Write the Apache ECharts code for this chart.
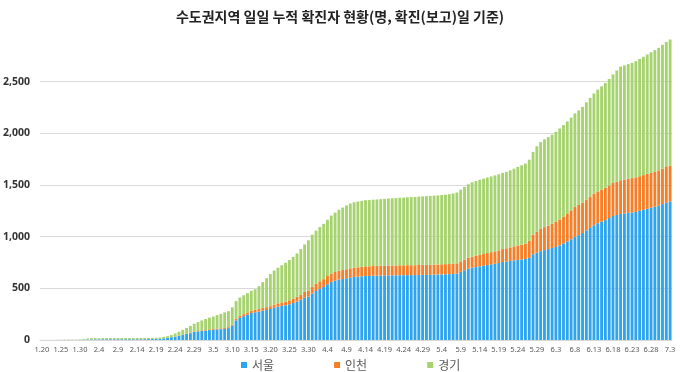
<!DOCTYPE html>
<html>
<head>
<meta charset="utf-8">
<script src="https://cdn.jsdelivr.net/npm/echarts@6/dist/echarts.min.js"></script>
<style>
html,body{margin:0;padding:0;background:#fff;}
#chart{width:680px;height:372px;}
</style>
</head>
<body>
<div id="chart"></div>
<script>
// Month spans used to build the daily category labels (1.20 ~ 7.3)
var monthSpans = [[1,20,31],[2,1,29],[3,1,31],[4,1,30],[5,1,31],[6,1,30],[7,1,3]];
var categories = [];
monthSpans.forEach(function(m){ for(var d=m[1]; d<=m[2]; d++){ categories.push(m[0]+'.'+d); } });

var seriesNames = ['서울','인천','경기'];

var seoul = [
  0,0,0,0,1,1,1,1,1,1,2,4,
  5,6,6,6,7,7,7,7,7,7,7,
  7,7,7,7,8,9,9,10,
  12,16,20,27,32,40,50,58,66,78,
  82,87,91,96,100,103,105,108,115,141,
  190,215,230,245,262,268,275,284,290,300,
  312,323,330,336,346,358,372,390,410,420,450,
  474,495,513,540,563,575,585,590,597,603,
  610,612,616,620,620,622,623,624,624,625,626,626,627,627,628,628,628,629,630,630,
  631,633,634,635,636,637,640,
  643,660,675,690,700,706,712,718,725,732,738,745,
  755,759,765,770,775,779,785,795,830,845,860,870,
  880,890,900,915,935,955,975,1000,1015,1035,1060,1085,1110,
  1130,1145,1160,1180,1200,1210,1220,1225,1230,1235,1240,1250,1260,1270,1280,1290,1300,
  1315,1328,1340
];

var incheon = [
  1,1,1,1,1,1,1,1,1,1,1,1,
  1,1,1,1,1,1,1,1,1,1,1,
  1,1,1,1,1,1,1,1,
  1,1,1,1,2,3,3,3,4,4,
  5,6,6,7,7,8,8,9,9,10,
  15,18,20,22,24,25,26,27,28,28,
  30,32,34,36,38,42,46,50,55,60,64,
  70,73,76,79,81,83,85,87,88,90,
  91,92,92,93,93,94,94,94,95,95,95,95,96,96,96,96,96,97,97,97,
  97,97,97,98,98,98,98,
  99,100,102,105,108,110,112,114,116,118,120,122,
  125,128,132,136,140,143,148,165,190,205,215,222,
  228,235,243,252,260,270,280,288,292,296,300,303,306,
  308,310,313,316,320,323,326,328,330,332,334,335,336,338,339,340,342,
  344,346,348
];

var gyeonggi = [
  0,0,0,0,0,0,1,2,2,2,3,5,
  8,10,11,11,11,11,11,11,11,11,11,
  11,11,11,11,11,11,11,11,
  12,13,16,20,30,37,45,55,66,76,
  86,96,106,114,120,130,140,150,155,165,
  172,178,183,186,190,198,220,250,280,310,
  330,345,360,375,390,405,420,440,460,485,505,
  515,525,535,545,560,575,590,605,618,628,
  632,636,638,640,641,642,643,645,647,649,651,652,654,655,657,659,660,662,663,665,
  666,667,668,670,672,676,680,
  685,695,705,712,718,722,727,729,731,733,735,736,
  737,740,745,752,760,768,775,785,800,825,840,850,
  855,862,872,880,885,890,897,905,915,925,940,955,970,
  985,1000,1015,1030,1050,1075,1100,1105,1110,1115,1125,1135,1145,1155,1165,1175,1185,
  1198,1210,1220
];

var colors = ['#2EA3EE','#F57E28','#A6D370'];
var font = '"Noto Sans CJK KR","Noto Sans",sans-serif';

var chart = echarts.init(document.getElementById('chart'));
chart.setOption({
  animation:false,
  color: colors,
  title:{
    text:'수도권지역 일일 누적 확진자 현황(명, 확진(보고)일 기준)',
    left:'center', top:5,
    textStyle:{fontFamily:font,fontSize:14,fontWeight:'bold',color:'#222'}
  },
  legend:{
    data:seriesNames,
    left:236, top:354,
    itemWidth:6, itemHeight:6, itemGap:60,
    icon:'rect',
    textStyle:{fontFamily:font,fontSize:12,color:'#595959'}
  },
  grid:{left:39,right:8,top:30,bottom:32,containLabel:false},
  xAxis:{
    type:'category',
    data:categories,
    axisTick:{show:false},
    axisLine:{lineStyle:{color:'#D9D9D9'}},
    axisLabel:{interval:4,fontSize:7.5,color:'#595959',margin:6,fontFamily:'"Noto Sans",sans-serif'}
  },
  yAxis:{
    type:'value',
    min:0, max:3000, interval:500,
    axisLine:{show:false},
    axisTick:{show:false},
    splitLine:{show:true,showMaxLine:false,lineStyle:{color:'#D9D9D9'}},
    axisLabel:{
      fontSize:10.5, fontWeight:'bold', color:'#333', margin:10,
      fontFamily:'"Noto Sans",sans-serif',
      formatter:function(v){ return v>=3000 ? '' : v.toLocaleString('en-US'); }
    }
  },
  series:[
    {name:seriesNames[0],type:'bar',stack:'t',data:seoul,barCategoryGap:'25%'},
    {name:seriesNames[1],type:'bar',stack:'t',data:incheon},
    {name:seriesNames[2],type:'bar',stack:'t',data:gyeonggi}
  ]
});
</script>
</body>
</html>
